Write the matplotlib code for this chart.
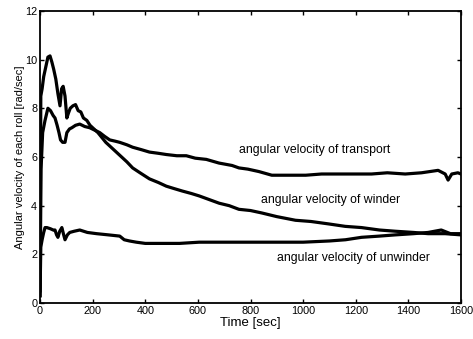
import matplotlib.pyplot as plt

# ===== 数据 =====
t_winder = [0, 3, 8, 14, 22, 30, 38, 45, 52, 60, 68, 76, 82, 88, 95, 102, 108, 115,
            125, 135, 145, 155, 165, 178, 190, 205, 220, 235, 250, 270, 290, 310, 330,
            352, 380, 416, 450, 480, 510, 541, 575, 605, 643, 681, 719, 756, 800, 843,
            900, 971, 1030, 1097, 1160, 1222, 1290, 1350, 1420, 1475, 1540, 1600]
v_winder = [0.5, 8.5, 8.8, 9.3, 9.7, 10.1, 10.15, 9.9, 9.6, 9.2, 8.6, 8.1, 8.8, 8.9, 8.5,
            7.6, 7.8, 8.0, 8.1, 8.15, 7.9, 7.85, 7.6, 7.5, 7.3, 7.15, 7.0, 6.8, 6.6, 6.4,
            6.2, 6.0, 5.8, 5.55, 5.35, 5.1, 4.95, 4.8, 4.7, 4.6, 4.5, 4.4, 4.25, 4.1, 4.0,
            3.85, 3.8, 3.7, 3.55, 3.4, 3.35, 3.25, 3.15, 3.1, 3.0, 2.95, 2.9, 2.85, 2.85, 2.8]

t_transport = [0, 4, 10, 19, 30, 40, 50, 57, 65, 72, 78, 86, 95, 102, 112, 121, 135, 151,
               170, 189, 208, 227, 245, 265, 285, 303, 330, 352, 385, 416, 450, 480, 520,
               556, 590, 632, 680, 730, 756, 790, 832, 881, 940, 1010, 1070, 1135, 1200,
               1260, 1320, 1388, 1450, 1513, 1540, 1551, 1565, 1588, 1600]
v_transport = [0.3, 5.5, 7.0, 7.5, 8.0, 7.9, 7.7, 7.6, 7.3, 7.0, 6.7, 6.6, 6.6, 7.0, 7.15,
               7.2, 7.3, 7.35, 7.25, 7.2, 7.1, 7.0, 6.85, 6.7, 6.65, 6.6, 6.5, 6.4, 6.3, 6.2,
               6.15, 6.1, 6.05, 6.05, 5.95, 5.9, 5.75, 5.65, 5.55, 5.5, 5.4, 5.25, 5.25, 5.25,
               5.3, 5.3, 5.3, 5.3, 5.35, 5.3, 5.35, 5.45, 5.3, 5.05, 5.3, 5.35, 5.3]

t_unwinder = [0, 3, 8, 14, 19, 26, 40, 50, 57, 63, 68, 75, 83, 90, 95, 104, 113, 130, 151,
              180, 215, 260, 303, 320, 340, 366, 400, 450, 530, 605, 700, 800, 900, 1000,
              1100, 1161, 1222, 1290, 1350, 1420, 1475, 1525, 1560, 1600]
v_unwinder = [0.3, 2.3, 2.6, 2.9, 3.1, 3.1, 3.05, 3.0, 3.0, 2.8, 2.7, 2.95, 3.1, 2.8, 2.6,
              2.8, 2.9, 2.95, 3.0, 2.9, 2.85, 2.8, 2.75, 2.6, 2.55, 2.5, 2.45, 2.45, 2.45,
              2.5, 2.5, 2.5, 2.5, 2.5, 2.55, 2.6, 2.7, 2.75, 2.8, 2.85, 2.9, 3.0, 2.85, 2.85]

x_ticks = [0, 200, 400, 600, 800, 1000, 1200, 1400, 1600]
y_ticks = [0, 2, 4, 6, 8, 10, 12]

plt.rcParams['font.family'] = ['Liberation Sans', 'DejaVu Sans']

# ===== 绘图 =====
fig = plt.figure(figsize=(4.73, 3.39), dpi=100)
ax = fig.add_axes([0.0846, 0.106, 0.890, 0.862])

ax.plot(t_winder, v_winder, color='black', lw=2.3)
ax.plot(t_transport, v_transport, color='black', lw=2.3)
ax.plot(t_unwinder, v_unwinder, color='black', lw=2.3)

ax.text(756, 6.3, 'angular velocity of transport', fontsize=8.8, va='center')
ax.text(840, 4.25, 'angular velocity of winder', fontsize=8.8, va='center')
ax.text(900, 1.85, 'angular velocity of unwinder', fontsize=8.8, va='center')

ax.set_xlim(0, 1600)
ax.set_ylim(0, 12)
ax.set_xticks(x_ticks)
ax.set_yticks(y_ticks)
ax.tick_params(direction='in', top=True, right=True, length=3, width=1,
               labelsize=7.8, pad=2)
for s in ax.spines.values():
    s.set_linewidth(1.3)

ax.set_xlabel('Time [sec]', fontsize=9.5, labelpad=1)
ax.set_ylabel('Angular velocity of each roll [rad/sec]', fontsize=8, labelpad=0)

fig.savefig('out.png', dpi=100)
